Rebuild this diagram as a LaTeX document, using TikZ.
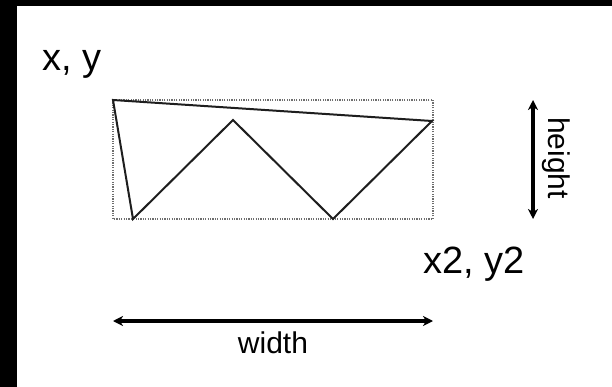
\documentclass[tikz,border=0pt]{standalone}
\usepackage{fontspec}
\setmainfont{Liberation Sans}
\usetikzlibrary{arrows.meta, positioning}
\definecolor{mygray}{RGB}{110,110,110}
\definecolor{myline}{RGB}{30,30,30}
\tikzset{
  dimarrow/.style={line width=3.2pt, {Stealth[length=10pt,width=10pt,inset=3pt]}-{Stealth[length=10pt,width=10pt,inset=3pt]}},
  coordlabel/.style={font=\fontsize{38}{44}\selectfont, inner sep=0pt},
  dimlabel/.style={font=\fontsize{30}{36}\selectfont, inner sep=0pt}
}
\begin{document}
\begin{tikzpicture}[x=1pt, y=-1pt]
            \useasboundingbox (0,0) rectangle (612,387);
            \fill[white] (0,0) rectangle (612,387);
            \fill[black] (0,0) rectangle (17,387);
            \fill[black] (0,0) rectangle (612,6);
            % bounding box of the shape
            \coordinate (tl) at (113,100);
            \coordinate (br) at (433,219);
            \draw[mygray, line width=2.6pt, dash pattern=on 1.2pt off 1.2pt] (tl) rectangle (br);
            % the polygon
            \coordinate (p1) at (113,100);
            \coordinate (p2) at (432,121);
            \coordinate (p3) at (333,219);
            \coordinate (p4) at (233,120);
            \coordinate (p5) at (133,219);
            \draw[myline, line width=2pt, line join=miter] (p1) -- (p2) -- (p3) -- (p4) -- (p5) -- cycle;
            % labels
            \node[coordlabel] (xy) at (72,64) {x, y};
            \node[coordlabel] (xy2) at (474,264) {x2, y2};
            % height
            \coordinate (h1) at (533,100);
            \coordinate (h2) at (533,219);
            \draw[dimarrow] (h1) -- (h2);
            \node[dimlabel, rotate=-90] (hlabel) at (556,158) {height};
            % width
            \coordinate (w1) at (113,321);
            \coordinate (w2) at (433,321);
            \draw[dimarrow] (w1) -- (w2);
            \node[dimlabel] (wlabel) at (273,343) {width};
        \end{tikzpicture}
\end{document}
